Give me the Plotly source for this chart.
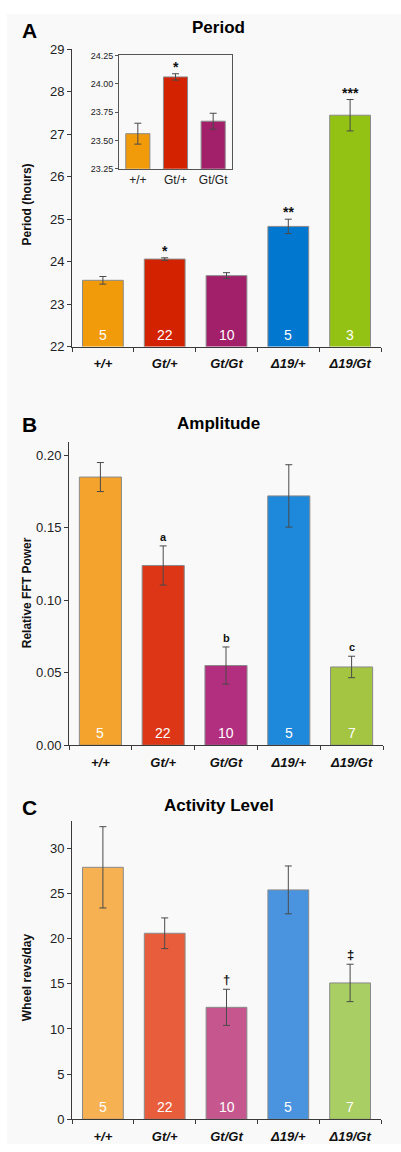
import plotly.graph_objects as go

W, H = 401, 1152

categories = ["+/+", "Gt/+", "Gt/Gt", "Δ19/+", "Δ19/Gt"]
n_period = [5, 22, 10, 5, 3]
n_other = [5, 22, 10, 5, 7]

period_mean = [23.56, 24.06, 23.67, 24.83, 27.45]
period_err = [0.09, 0.03, 0.07, 0.17, 0.37]
period_sig = ["", "*", "", "**", "***"]

inset_categories = ["+/+", "Gt/+", "Gt/Gt"]
inset_mean = [23.56, 24.06, 23.67]
inset_err = [0.092, 0.028, 0.07]
inset_sig = ["", "*", ""]

amp_mean = [0.185, 0.124, 0.055, 0.172, 0.054]
amp_err = [0.010, 0.0135, 0.0128, 0.0215, 0.0074]
amp_sig = ["", "a", "b", "", "c"]

act_mean = [27.9, 20.6, 12.4, 25.4, 15.1]
act_err = [4.5, 1.7, 2.0, 2.65, 2.07]
act_sig = ["", "", "†", "", "‡"]

col_A = ["#F29B0A", "#D22200", "#A21F6A", "#0277D0", "#93C215"]
col_B = ["#F4A32C", "#DC3617", "#B22F80", "#1E88DA", "#A3C541"]
col_C = ["#F5B152", "#E85D3B", "#C5578E", "#4A94DF", "#A8CE64"]

FONT = "Liberation Sans, Arial, sans-serif"


def px_x(x):
    return x / W


def px_y(y):
    return 1 - y / H


fig = go.Figure()

xlabels = [f"<b><i>{c}</i></b>" for c in categories]


def add_bars(xa, ya, cats, means, errs, colors, width):
    fig.add_trace(go.Bar(
        x=cats, y=means, xaxis=xa, yaxis=ya,
        marker=dict(color=colors, line=dict(color="#8a8a8a", width=1)),
        width=width,
        error_y=dict(type="data", array=errs, visible=True,
                     color="#4a4a4a", thickness=1, width=3.5),
        showlegend=False, hoverinfo="skip",
    ))


add_bars("x", "y", xlabels, period_mean, period_err, col_A, 0.66)
add_bars("x2", "y2", inset_categories, inset_mean, inset_err, col_A[:3], 0.64)
add_bars("x3", "y3", xlabels, amp_mean, amp_err, col_B, 0.67)
add_bars("x4", "y4", xlabels, act_mean, act_err, col_C, 0.66)

axis_common = dict(showgrid=False, zeroline=False, showline=True,
                   linecolor="#3a3a3a", linewidth=1, ticks="outside",
                   tickcolor="#3a3a3a", ticklen=4,
                   tickfont=dict(family=FONT, size=13, color="#222"))

xcat = dict(axis_common, type="category", tickson="boundaries",
            ticklabelstandoff=5,
            tickfont=dict(family=FONT, size=13, color="#111"),
            fixedrange=True)

layout = dict(
    width=W, height=H, autosize=False,
    margin=dict(l=0, r=0, t=0, b=0),
    paper_bgcolor="white", plot_bgcolor="rgba(0,0,0,0)",
    font=dict(family=FONT),
    bargap=0.34,
    xaxis=dict(xcat, domain=[px_x(72), px_x(381)], anchor="y"),
    yaxis=dict(axis_common, domain=[px_y(344), px_y(43)], range=[22, 29],
               tickvals=[22, 23, 24, 25, 26, 27, 28, 29], anchor="x"),
    xaxis2=dict(showgrid=False, zeroline=False, showline=True, mirror=True,
                linecolor="#555", linewidth=1, ticks="", type="category",
                domain=[px_x(119), px_x(232)], anchor="y2",
                tickfont=dict(family=FONT, size=12, color="#222")),
    yaxis2=dict(showgrid=False, zeroline=False, showline=True, mirror=True,
                linecolor="#555", linewidth=1, ticks="outside", ticklen=3,
                tickcolor="#555",
                domain=[px_y(164), px_y(49)], range=[23.25, 24.25],
                tickvals=[23.25, 23.5, 23.75, 24.0, 24.25], tickformat=".2f",
                anchor="x2", tickfont=dict(family=FONT, size=9, color="#222")),
    xaxis3=dict(xcat, domain=[px_x(69), px_x(383)], anchor="y3"),
    yaxis3=dict(axis_common, domain=[px_y(748), px_y(441)], range=[0, 0.209],
                tickvals=[0, 0.05, 0.10, 0.15, 0.20], tickformat=".2f",
                anchor="x3"),
    xaxis4=dict(xcat, domain=[px_x(72), px_x(381)], anchor="y4"),
    yaxis4=dict(axis_common, domain=[px_y(1127), px_y(825)], range=[0, 33],
                tickvals=[0, 5, 10, 15, 20, 25, 30], anchor="x4"),
)

annotations = []
# panel letters and titles
for letter, ly, title, ty in [("A", 23, "Period", 20),
                              ("B", 422, "Amplitude", 421),
                              ("C", 810, "Activity Level", 808)]:
    annotations.append(dict(text=f"<b>{letter}</b>", x=px_x(29), y=px_y(ly + 1),
                            xref="paper", yref="paper", showarrow=False,
                            xanchor="center", yanchor="middle",
                            font=dict(family=FONT, size=21, color="#000")))
    annotations.append(dict(text=f"<b>{title}</b>", x=px_x(219), y=px_y(ty + 1),
                            xref="paper", yref="paper", showarrow=False,
                            xanchor="center", yanchor="middle",
                            font=dict(family=FONT, size=17, color="#000")))

# y-axis titles
for title, cy in [("Period (hours)", 200), ("Relative FFT Power", 594),
                  ("Wheel revs/day", 983)]:
    annotations.append(dict(text=f"<b>{title}</b>", x=px_x(27), y=px_y(cy),
                            xref="paper", yref="paper", showarrow=False,
                            textangle=-90, xanchor="center", yanchor="middle",
                            font=dict(family=FONT, size=12, color="#111")))

# N counts
for xr, yr, base, ns in [("x", "y", 22, n_period), ("x3", "y3", 0, n_other),
                         ("x4", "y4", 0, n_other)]:
    for i, n in enumerate(ns):
        annotations.append(dict(text=str(n), x=i, y=base, xref=xr, yref=yr,
                                showarrow=False, xanchor="center",
                                yanchor="bottom", yshift=2,
                                font=dict(family=FONT, size=14, color="white")))


# significance markers
def sig(xr, yr, means, errs, marks, size, shift):
    for i, m in enumerate(marks):
        if m:
            annotations.append(dict(text=f"<b>{m}</b>", x=i, y=means[i] + errs[i],
                                    xref=xr, yref=yr, showarrow=False,
                                    xanchor="center", yanchor="bottom",
                                    yshift=shift,
                                    font=dict(family=FONT, size=size, color="#111")))


sig("x", "y", period_mean, period_err, period_sig, 14, -3)
sig("x2", "y2", inset_mean, inset_err, inset_sig, 14, -3)
sig("x3", "y3", amp_mean, amp_err, amp_sig, 11, 1)
sig("x4", "y4", act_mean, act_err, act_sig, 13, 0)

layout["annotations"] = annotations
layout["shapes"] = [dict(type="rect", xref="paper", yref="paper",
                         x0=px_x(7), x1=1, y0=0, y1=px_y(7),
                         fillcolor="#F9F9F9", line=dict(width=0), layer="below")]

fig.update_layout(**layout)
fig.write_html("out.html", config=dict(displayModeBar=False))
